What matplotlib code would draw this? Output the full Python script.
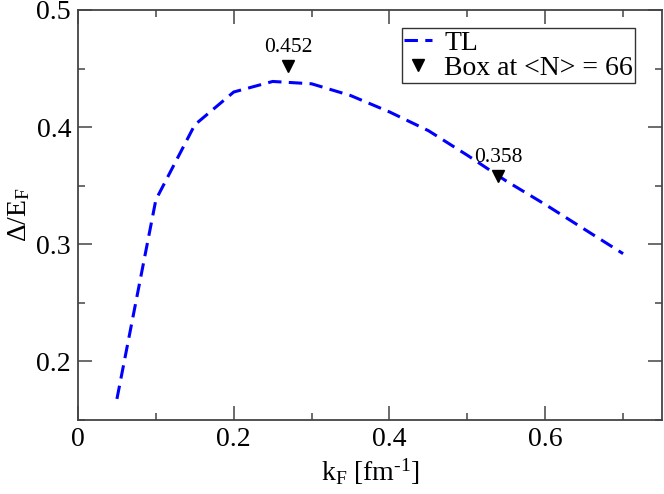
import matplotlib
matplotlib.use("Agg")
import matplotlib.pyplot as plt
from matplotlib.ticker import MultipleLocator

plt.rcParams['font.family'] = ['Liberation Serif', 'DejaVu Serif']
plt.rcParams['mathtext.fontset'] = 'custom'
plt.rcParams['mathtext.rm'] = 'Liberation Serif'
plt.rcParams['mathtext.it'] = 'Liberation Serif:italic'

kF = [0.05, 0.10, 0.15, 0.20, 0.25, 0.30, 0.35, 0.40, 0.45, 0.50, 0.55, 0.60, 0.65, 0.70]
gap_TL = [0.168, 0.338, 0.402, 0.430, 0.439, 0.437, 0.427, 0.413, 0.397, 0.376, 0.354, 0.334, 0.313, 0.292]

box_kF = [0.27, 0.54]
box_gap = [0.452, 0.358]
box_labels = ["0.452", "0.358"]

fig = plt.figure(figsize=(6.64, 4.94), dpi=100)
ax = fig.add_axes([78/664, 1-420/494, (662-78)/664, (420-10)/494])

ax.plot(kF, gap_TL, color='#0000ff', lw=2.2, dashes=(4.4, 2.4), label='TL')
ax.plot(box_kF, box_gap, linestyle='none', marker='v', color='black', markersize=8,
        label='Box at <N> = 66')
for xv, yv, lab in zip(box_kF, box_gap, box_labels):
    ax.annotate(lab, (xv, yv), xytext=(0, 13.5), textcoords='offset points',
                ha='center', va='center', fontsize=15.5)

ax.set_xlim(0, 0.75)
ax.set_ylim(0.15, 0.5)
ax.xaxis.set_minor_locator(MultipleLocator(0.1))
ax.yaxis.set_minor_locator(MultipleLocator(0.05))
ax.set_xticks([0, 0.2, 0.4, 0.6])
ax.set_xticklabels(['0', '0.2', '0.4', '0.6'])
ax.set_yticks([0.2, 0.3, 0.4, 0.5])
ax.set_yticklabels(['0.2', '0.3', '0.4', '0.5'])

ax.tick_params(which='both', direction='in', top=True, right=True, labelsize=20,
               colors='#444444', labelcolor='black')
ax.tick_params(which='major', length=10, width=1.1, pad=5)
ax.tick_params(which='minor', length=5, width=1.1)
for s in ax.spines.values():
    s.set_linewidth(1.3)
    s.set_color('#444444')

ax.set_xlabel(r'k$_\mathrm{F}$ [fm$^{\text{-1}}$]', fontsize=20, labelpad=3)
ax.set_ylabel(r'$\Delta$/E$_\mathrm{F}$', fontsize=20, labelpad=3)

leg = ax.legend(loc='upper right', bbox_to_anchor=(0.954, 0.956), borderaxespad=0,
                fontsize=20, frameon=True, fancybox=False, handlelength=1.0,
                handletextpad=0.45, borderpad=0.08, labelspacing=0.0, numpoints=1)
leg.get_frame().set_edgecolor('black')
leg.get_frame().set_linewidth(1.0)

fig.savefig('out.png', dpi=100)
